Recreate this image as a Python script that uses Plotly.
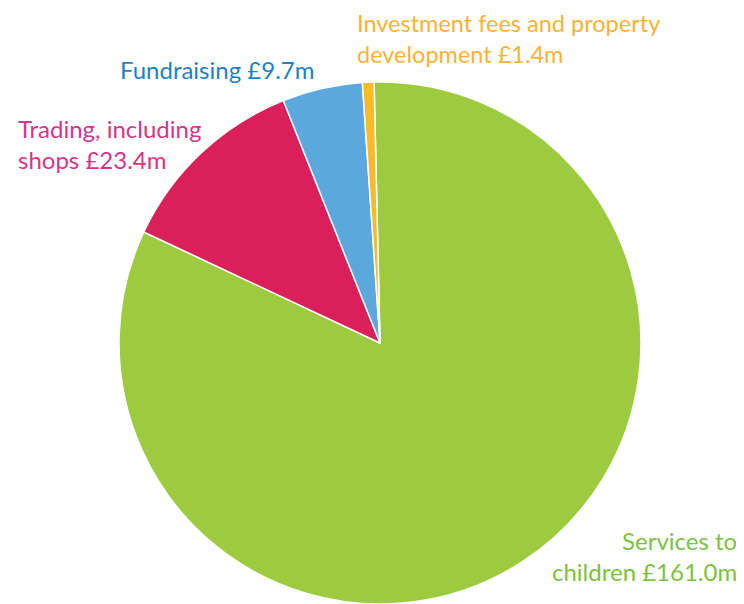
import plotly.graph_objects as go

categories = ["Services to children", "Trading, including shops", "Fundraising", "Investment fees and property development"]
values = [161.0, 23.4, 9.7, 1.4]
slice_colors = ["#9CCB3F", "#DA1F5B", "#5BA8DE", "#F8B92B"]
label_texts = ["Services to<br>children £161.0m", "Trading, including<br>shops £23.4m", "Fundraising £9.7m", "Investment fees and property<br>development £1.4m"]
label_colors = ["#7DC242", "#D5358A", "#1E80C6", "#F9B233"]

W, H = 736, 596  # page offset of 8px body margin
cx, cy, r = 372, 335, 262
fig = go.Figure(go.Pie(
    labels=categories, values=values, sort=False, direction="clockwise", rotation=-1.3,
    marker=dict(colors=slice_colors, line=dict(color="white", width=1.5)),
    textinfo="none", hoverinfo="label+value", showlegend=False,
    domain=dict(x=[(cx - r) / W, (cx + r) / W], y=[0, 2 * (H - cy) / H]),
))

font = "Lato, 'Open Sans', sans-serif"
pos = [
    dict(x=739, y=556, xanchor="right", align="right", size=24),
    dict(x=16, y=144, xanchor="left", align="left", size=24),
    dict(x=118, y=69, xanchor="left", align="left", size=24),
    dict(x=355, y=38, xanchor="left", align="left", size=23.5),
]
for t, c, p in zip(label_texts, label_colors, pos):
    fig.add_annotation(text=t, x=p["x"], y=604 - p["y"], xref="x", yref="y", xanchor=p["xanchor"], yanchor="middle",
                       align=p["align"], showarrow=False, font=dict(family=font, size=p["size"], color=c))

fig.update_layout(
    width=W, height=H, margin=dict(l=0, r=0, t=0, b=0),
    paper_bgcolor="white", plot_bgcolor="rgba(0,0,0,0)",
    xaxis=dict(range=[8, 744], visible=False, domain=[0, 1]),
    yaxis=dict(range=[0, 596], visible=False, domain=[0, 1]),
)
fig.write_html("out.html")
